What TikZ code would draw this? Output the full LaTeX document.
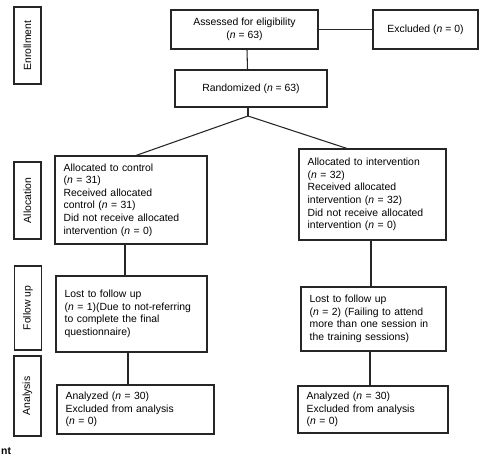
\documentclass[tikz,border=0pt]{standalone}
\usepackage{fontspec}
\setmainfont{Liberation Sans}
\usetikzlibrary{positioning,calc}

\begin{document}
\begin{tikzpicture}[
    x=0.75pt, y=-0.75pt,
    font=\fontsize{7.8}{9.45}\selectfont,
    line width=0.8pt,
    stage/.style={rectangle, draw=black!85, rotate=90, minimum height=20.25pt, inner sep=0pt},
    cbox/.style={rectangle, draw=black!85, align=center, inner sep=0pt},
    pbox/.style={rectangle, draw=black!85, align=left, inner xsep=6.5pt, inner ysep=0pt},
    link/.style={draw=black!85, line width=0.8pt}
]
\useasboundingbox (0,0) rectangle (480,471);

% Stage labels on the left
\node[stage, minimum width=57.75pt] (senrol) at (27.5, 45.5) {Enrollment};
\node[stage, minimum width=57.75pt] (salloc) at (27.5, 200.5) {Allocation};
\node[stage, minimum width=63pt] (sfollow) at (28, 308) {Follow up};
\node[stage, minimum width=60pt] (sanal) at (27.5, 396) {Analysis};

% Enrollment
\node[cbox, minimum width=110.25pt, minimum height=29.25pt] (assess) at (244.5, 29.5) {Assessed for eligibility\\(\textit{n} = 63)};
\node[cbox, minimum width=78.75pt, minimum height=29.25pt] (excl) at (425.5, 29.5) {Excluded (\textit{n} = 0)};
\node[cbox, minimum width=114pt, minimum height=27.75pt] (rand) at (251, 88.5) {Randomized (\textit{n} = 63)};

% Allocation
\node[pbox, text width=101pt, minimum height=66pt] (ctrl) at (131, 200) {Allocated to control\\(\textit{n} = 31)\\Received allocated\\control (\textit{n} = 31)\\Did not receive allocated\\intervention (\textit{n} = 0)};
\node[pbox, text width=97.25pt, minimum height=68.25pt] (interv) at (372.5, 194.5) {Allocated to intervention\\(\textit{n} = 32)\\Received allocated\\intervention (\textit{n} = 32)\\Did not receive allocated\\intervention (\textit{n} = 0)};

% Follow up
\node[pbox, text width=100.25pt, minimum height=57pt] (lostc) at (131.5, 314) {Lost to follow up\\(\textit{n} = 1)(Due to not-referring\\to complete the final\\questionnaire)};
\node[pbox, text width=95.75pt, minimum height=48pt] (losti) at (373.5, 319) {Lost to follow up\\(\textit{n} = 2) (Failing to attend\\more than one session in\\the training sessions)};

% Analysis
\node[pbox, text width=104.75pt, minimum height=36.75pt] (anac) at (135.5, 409.5) {Analyzed (\textit{n} = 30)\\Excluded from analysis\\(\textit{n} = 0)};
\node[pbox, text width=99.5pt, minimum height=35.25pt] (anai) at (373, 409.5) {Analyzed (\textit{n} = 30)\\Excluded from analysis\\(\textit{n} = 0)};

% cut-off caption text
\node[anchor=west, inner xsep=0.5pt, inner ysep=0pt, font=\fontsize{7.8}{9.45}\selectfont\bfseries] (cap) at (0, 451) {nt};

% Connections
\draw[link] (assess.east) -- (excl.west);
\draw[link] ($(assess.south)+(2.5,0)$) -- ($(rand.north)+(-3.5,0)$);
\coordinate (split) at (248, 116);
\draw[link] ($(rand.south)+(-3,0)$) -- (split);
\draw[link] (split) -- ($(ctrl.north)+(5,0)$);
\draw[link] (split) -- ($(interv.north)+(-25.5,0)$);

\draw[link] ($(ctrl.south)+(-6,0)$) -- ($(lostc.north)+(-6.5,0)$);
\draw[link] ($(lostc.south)+(-3.5,0)$) -- ($(anac.north)+(-7.5,0)$);
\draw[link] ($(interv.south)+(-1.5,0)$) -- ($(losti.north)+(-2.5,0)$);
\draw[link] ($(losti.south)+(-3.5,0)$) -- ($(anai.north)+(-3,0)$);

\end{tikzpicture}
\end{document}
